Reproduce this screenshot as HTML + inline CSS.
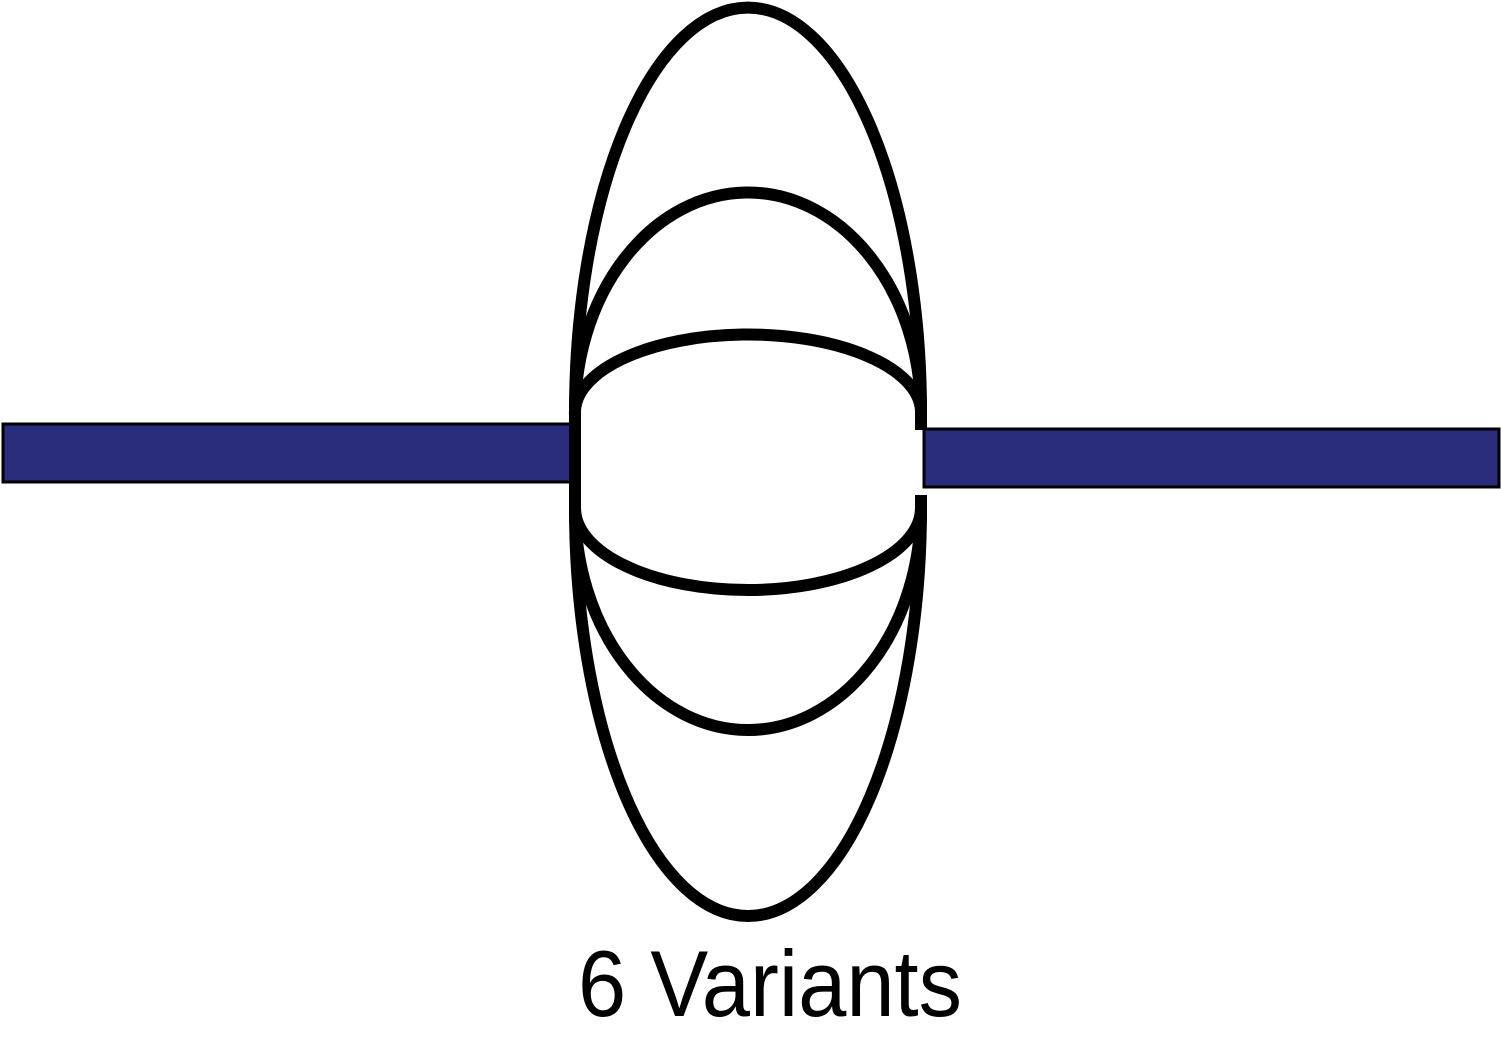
<!DOCTYPE html>
<html><head><meta charset="utf-8"><style>html,body{margin:0;padding:0;background:#fff}svg{display:block}</style></head>
<body>
<svg width="1501" height="1040" viewBox="0 0 1501 1040">
<rect x="3" y="424" width="568" height="58" fill="#2a2d7c" stroke="#000" stroke-width="3"/>
<rect x="924" y="429" width="575" height="58" fill="#2a2d7c" stroke="#000" stroke-width="3"/>
<g fill="none" stroke="#000" stroke-width="12">
<path d="M575,415 A173,405 0 0 1 921,410"/>
<path d="M575,508 A173,408 0 0 0 921,508"/>
<path d="M575,415 A173,220 0 0 1 921,410"/>
<path d="M575,508 A173,222 0 0 0 921,508"/>
<path d="M575,415 A173,78 0 0 1 921,410"/>
<path d="M575,508 A173,82 0 0 0 921,508"/>
<path d="M575,405 L575,515"/>
<path d="M921,400 L921,430 M921,495 L921,520"/>
</g>
<text x="578" y="1016" font-family="Liberation Sans, sans-serif" font-size="94" textLength="384" lengthAdjust="spacingAndGlyphs" fill="#000">6 Variants</text>
</svg>
</body></html>
